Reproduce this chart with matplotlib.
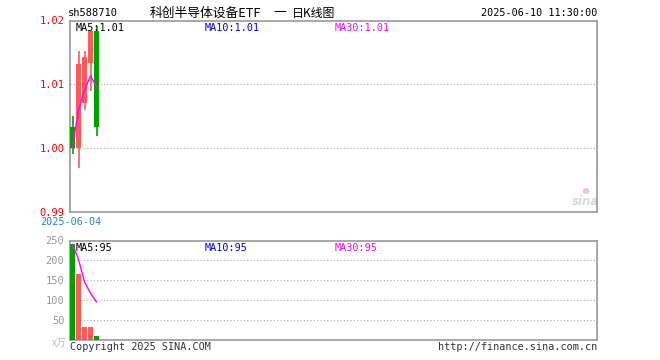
import matplotlib
matplotlib.use("Agg")
import matplotlib.pyplot as plt
from matplotlib.patches import Rectangle, Ellipse

# ---- data ----
opens  = [1.0032, 1.0000, 1.0071, 1.0133, 1.0183]
closes = [1.0000, 1.0132, 1.0142, 1.0183, 1.0032]
highs  = [1.0050, 1.0152, 1.0152, 1.0183, 1.0192]
lows   = [0.9990, 0.9968, 1.0059, 1.0090, 1.0019]
ma_price = [1.0002, 1.0059, 1.0091, 1.0113, 1.0096]
volumes = [240, 165, 31, 31, 8]
ma_volume = [240, 202.5, 145.3, 116.8, 95]
price_ticks = [0.99, 1.00, 1.01, 1.02]
price_tick_labels = ["0.99", "1.00", "1.01", "1.02"]
vol_ticks = [50, 100, 150, 200, 250]
vol_tick_labels = ["50", "100", "150", "200", "250"]
code = "sh588710"
title_left = "科创半导体设备ETF"
title_mid = "一"
title_right = "日K线图"
timestamp = "2025-06-10 11:30:00"
first_date = "2025-06-04"
ma_labels = ["MA5:1.01", "MA10:1.01", "MA30:1.01"]
vol_ma_labels = ["MA5:95", "MA10:95", "MA30:95"]

RED = "#FF5A5A"
GREEN = "#00A000"
MAG = "#FF00FF"
GREY = "#999999"
MONO = "DejaVu Sans Mono"
CJK = ["Noto Sans CJK SC", "DejaVu Sans"]

W, H = 660, 360
fig = plt.figure(figsize=(6.6, 3.6), dpi=100)

def box(l, t, r, b):
    return [l / W, 1 - b / H, (r - l) / W, (b - t) / H]

ax = fig.add_axes(box(70, 20.5, 597, 211.5))
axv = fig.add_axes(box(70, 240.5, 597, 339.5))

xlim = (-2.5 / 6, 524.5 / 6)
bw = 5 / 6

for a in (ax, axv):
    a.set_xlim(*xlim)
    for s in a.spines.values():
        s.set_color(GREY)
        s.set_linewidth(1.2)
    a.set_xticks([])
    a.tick_params(length=0)

# price panel
ax.set_ylim(0.99, 1.02)
for y in (1.00, 1.01):
    ax.axhline(y, color="#AAAAAA", linestyle=(0, (1, 2)), linewidth=0.8, zorder=0)
for i, (o, c, h, l) in enumerate(zip(opens, closes, highs, lows)):
    col = RED if c >= o else GREEN
    ax.vlines(i, l, h, color=col, linewidth=1.2, zorder=2)
    ax.add_patch(Rectangle((i - bw / 2, min(o, c)), bw, abs(c - o), facecolor=col, edgecolor=col, linewidth=0, zorder=3))
ax.plot(range(len(ma_price)), ma_price, color=MAG, linewidth=1.0, zorder=4)
ax.set_yticks(price_ticks)
ax.set_yticklabels(price_tick_labels, family=MONO, fontsize=7.5, color="#FF0000")
ax.tick_params(axis="y", pad=4)

ax.text(0.01, 0.985, ma_labels[0], transform=ax.transAxes, family=MONO, fontsize=7.3, color="black", va="top", ha="left")
ax.text((205 - 70) / 527, 0.985, ma_labels[1], transform=ax.transAxes, family=MONO, fontsize=7.3, color="#0000FF", va="top", ha="left")
ax.text((335 - 70) / 527, 0.985, ma_labels[2], transform=ax.transAxes, family=MONO, fontsize=7.3, color=MAG, va="top", ha="left")

# watermark (sina logo)
ax.text((586 - 70) / 527, (211.5 - 201.5) / 191, "sina", transform=ax.transAxes, fontsize=8.5, color="#D8D8D8",
        fontweight="bold", style="italic", ha="center", va="center", zorder=1)
ax.add_patch(Ellipse(((586 - 70) / 527, (211.5 - 191) / 191), 7 / 527, 6 / 191, transform=ax.transAxes,
                     facecolor="#F4C8C8", edgecolor="none", zorder=1))

# volume panel
axv.set_ylim(0, 250)
for y in (50, 100, 150, 200):
    axv.axhline(y, color="#AAAAAA", linestyle=(0, (1, 2)), linewidth=0.8, zorder=0)
for i, v in enumerate(volumes):
    col = RED if closes[i] >= opens[i] else GREEN
    axv.bar(i, v, width=bw, color=col, linewidth=0, zorder=3)
axv.plot(range(len(ma_volume)), ma_volume, color=MAG, linewidth=1.0, zorder=4)
axv.set_yticks(vol_ticks)
axv.set_yticklabels(vol_tick_labels, family=MONO, fontsize=7.5, color="#999999")
axv.tick_params(axis="y", pad=4)
axv.text(0.01, 0.97, vol_ma_labels[0], transform=axv.transAxes, family=MONO, fontsize=7.3, color="black", va="top", ha="left")
axv.text((205 - 70) / 527, 0.97, vol_ma_labels[1], transform=axv.transAxes, family=MONO, fontsize=7.3, color="#0000FF", va="top", ha="left")
axv.text((335 - 70) / 527, 0.97, vol_ma_labels[2], transform=axv.transAxes, family=MONO, fontsize=7.3, color=MAG, va="top", ha="left")

# header / footer texts
fig.text(68 / W, 1 - 13 / H, code, family=MONO, fontsize=7.5, color="black", ha="left", va="center")
fig.text(150 / W, 1 - 13 / H, title_left, family=CJK, fontsize=9.2, color="black", ha="left", va="center")
fig.text(280 / W, 1 - 13 / H, title_mid, family=CJK, fontsize=9.2, color="black", ha="center", va="center")
fig.text(292 / W, 1 - 13 / H, title_right, family=CJK, fontsize=8.6, color="black", ha="left", va="center")
fig.text(597 / W, 1 - 13 / H, timestamp, family=MONO, fontsize=7.3, color="black", ha="right", va="center")
fig.text(40 / W, 1 - 222 / H, first_date, family=MONO, fontsize=7.3, color="#1E88D0", ha="left", va="center")
fig.text(66 / W, 1 - 343 / H, "x万", family=CJK, fontsize=7, color="#BBBBBB", ha="right", va="center")
fig.text(70 / W, 1 - 347 / H, "Copyright 2025 SINA.COM", family=MONO, fontsize=7.3, color="#333333", ha="left", va="center")
fig.text(597 / W, 1 - 347 / H, "http://finance.sina.com.cn", family=MONO, fontsize=7.3, color="#333333", ha="right", va="center")

fig.savefig("out.png", dpi=100)
